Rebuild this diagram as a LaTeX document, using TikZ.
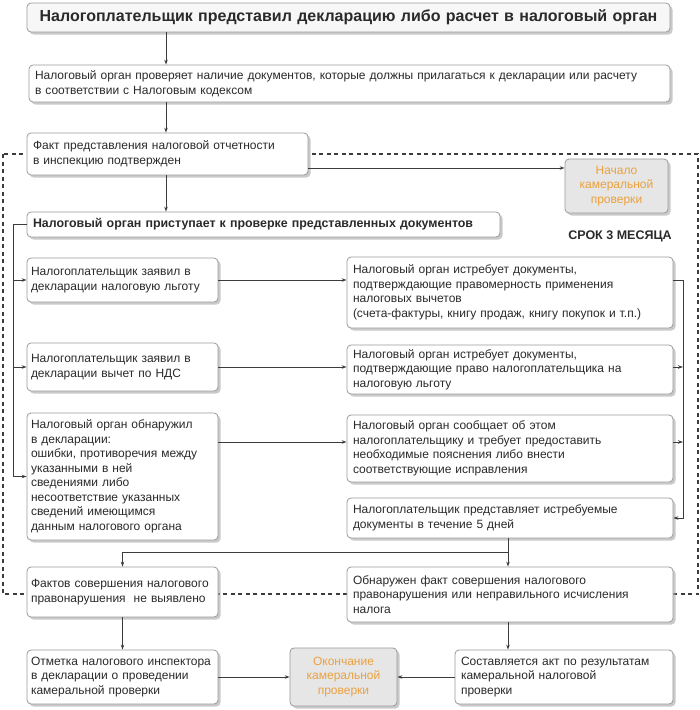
\documentclass[tikz,border=0pt]{standalone}
\usepackage{fontspec}
\setmainfont{Liberation Sans}
\usepackage{tikz}
\usetikzlibrary{arrows.meta, shadows}
\definecolor{linegray}{HTML}{3C3C3C}
\definecolor{edgegray}{HTML}{9A9A9A}
\definecolor{stagefill}{HTML}{E6E6E6}
\definecolor{stagetext}{HTML}{EBA13E}
\definecolor{inkgray}{HTML}{2A2A2A}

\begin{document}
\begin{tikzpicture}[x=1pt, y=-1pt,
  box/.style={draw=edgegray, line width=0.8pt, rounded corners=4pt, fill=white, align=left, inner xsep=6pt, inner ysep=2pt, text=inkgray, font=\fontsize{12}{14.5}\selectfont, drop shadow={shadow xshift=2.5pt, shadow yshift=-2.5pt, fill=black!35, opacity=0.6}},
  leftbox/.style={box, inner xsep=4pt, text width=183pt},
  rightbox/.style={box, text width=314pt},
  stage/.style={box, fill=stagefill, align=center, text=stagetext},
  arr/.style={draw=linegray, line width=1pt, -{Stealth[length=5pt, width=3.5pt]}},
  link/.style={draw=linegray, line width=1pt},
  frame/.style={draw=linegray, line width=1.6pt, dash pattern=on 4pt off 3.5pt}]
\useasboundingbox (0,0) rectangle (700,710);
% three months of the desk audit
\draw[frame] (3,154) rectangle (698,594);
% top of the chain
\node[box, align=center, font=\fontsize{16}{19}\selectfont\bfseries, text width=631pt, minimum height=29pt, fill=gray!6] (decl) at (348.5,17.5) {Налогоплательщик представил декларацию либо расчет в налоговый орган};
\node[box, text width=629pt, minimum height=37pt] (check) at (349.5,83.5) {Налоговый орган проверяет наличие документов, которые должны прилагаться к декларации или расчету\\в соответствии с Налоговым кодексом};
\node[box, text width=269pt, minimum height=42pt] (fact) at (167.5,154) {Факт представления налоговой отчетности\\в инспекцию подтвержден};
\node[stage, text width=91pt, minimum height=54pt] (start) at (616.5,186) {Начало\\камеральной\\проверки};
\node[font=\fontsize{12.5}{14}\selectfont\bfseries, text=inkgray] (term) at (620,236) {СРОК 3 МЕСЯЦА};
\node[box, font=\fontsize{12.4}{14.5}\selectfont\bfseries, text width=461pt, minimum height=25pt] (begin) at (263.5,224.5) {Налоговый орган приступает к проверке представленных документов};
% what the taxpayer declared / what was found
\node[leftbox, minimum height=44pt] (relief) at (122.5,280) {Налогоплательщик заявил в\\декларации налоговую льготу};
\node[leftbox, minimum height=48pt] (vat) at (122.5,367) {Налогоплательщик заявил в\\декларации вычет по НДС};
\node[leftbox, minimum height=127pt] (errors) at (122.5,476.5) {Налоговый орган обнаружил\\в декларации:\\ошибки, противоречия между\\указанными в ней\\сведениями либо\\несоответствие указанных\\сведений имеющимся\\данным налогового органа};
% what the tax office does
\node[rightbox, minimum height=71pt] (reqvat) at (510,292.5) {Налоговый орган истребует документы,\\подтверждающие правомерность применения\\налоговых вычетов\\(счета-фактуры, книгу продаж, книгу покупок и т.п.)};
\node[rightbox, minimum height=49pt] (reqrel) at (510,369.5) {Налоговый орган истребует документы,\\подтверждающие право налогоплательщика на\\налоговую льготу};
\node[rightbox, minimum height=67pt] (notify) at (510,448.5) {Налоговый орган сообщает об этом\\налогоплательщику и требует предоставить\\необходимые пояснения либо внести\\соответствующие исправления};
\node[rightbox, minimum height=40pt] (submit) at (510,518) {Налогоплательщик представляет истребуемые\\документы в течение 5 дней};
% outcome
\node[leftbox, minimum height=50pt] (clean) at (122.5,592) {Фактов совершения налогового\\правонарушения\ \ не выявлено};
\node[rightbox, minimum height=55pt] (offence) at (510,594.5) {Обнаружен факт совершения налогового\\правонарушения или неправильного исчисления\\налога};
\node[leftbox, minimum height=54pt] (mark) at (122.5,677) {Отметка налогового инспектора\\в декларации о проведении\\камеральной проверки};
\node[stage, text width=95pt, minimum height=58pt] (finish) at (343.5,677) {Окончание\\камеральной\\проверки};
\node[box, text width=206pt, minimum height=54pt] (act) at (564,677) {Составляется акт по результатам\\камеральной налоговой\\проверки};
% connectors
\coordinate (spine) at (166,0);
\coordinate (lrail) at (13,0);
\coordinate (rrail) at (683,0);
\coordinate (fork) at (508,552);
\coordinate (startrow) at (0,168);
\coordinate (errrow) at (0,442);
\draw[arr] (decl.south -| spine) -- (check.north -| spine);
\draw[arr] (check.south -| spine) -- (fact.north -| spine);
\draw[arr] (fact.south -| spine) -- (begin.north -| spine);
\draw[arr] (fact.east |- startrow) -- (start.west |- startrow);
\draw[arr] (begin.west) -- (begin.west -| lrail) |- (errors.west);
\draw[arr] (lrail |- relief.west) -- (relief.west);
\draw[arr] (lrail |- vat.west) -- (vat.west);
\draw[arr] (relief.east) -- (relief.east -| reqvat.west);
\draw[arr] (vat.east) -- (vat.east -| reqrel.west);
\draw[arr] (errors.east |- errrow) -- (notify.west |- errrow);
\draw[arr] (reqvat.east |- relief.east) -| (rrail |- submit.east) -- (submit.east);
\draw[arr] (reqrel.east |- vat.east) -- (rrail |- vat.east);
\draw[arr] (notify.east |- errrow) -- (rrail |- errrow);
\draw[link] (submit.south -| fork) -- (fork);
\draw[arr] (fork) -- (offence.north -| fork);
\draw[arr] (fork) -| (clean.north);
\draw[arr] (clean.south) -- (mark.north);
\draw[arr] (offence.south -| fork) -- (act.north -| fork);
\draw[arr] (mark.east) -- (finish.west);
\draw[arr] (act.west) -- (finish.east);
\end{tikzpicture}
\end{document}
